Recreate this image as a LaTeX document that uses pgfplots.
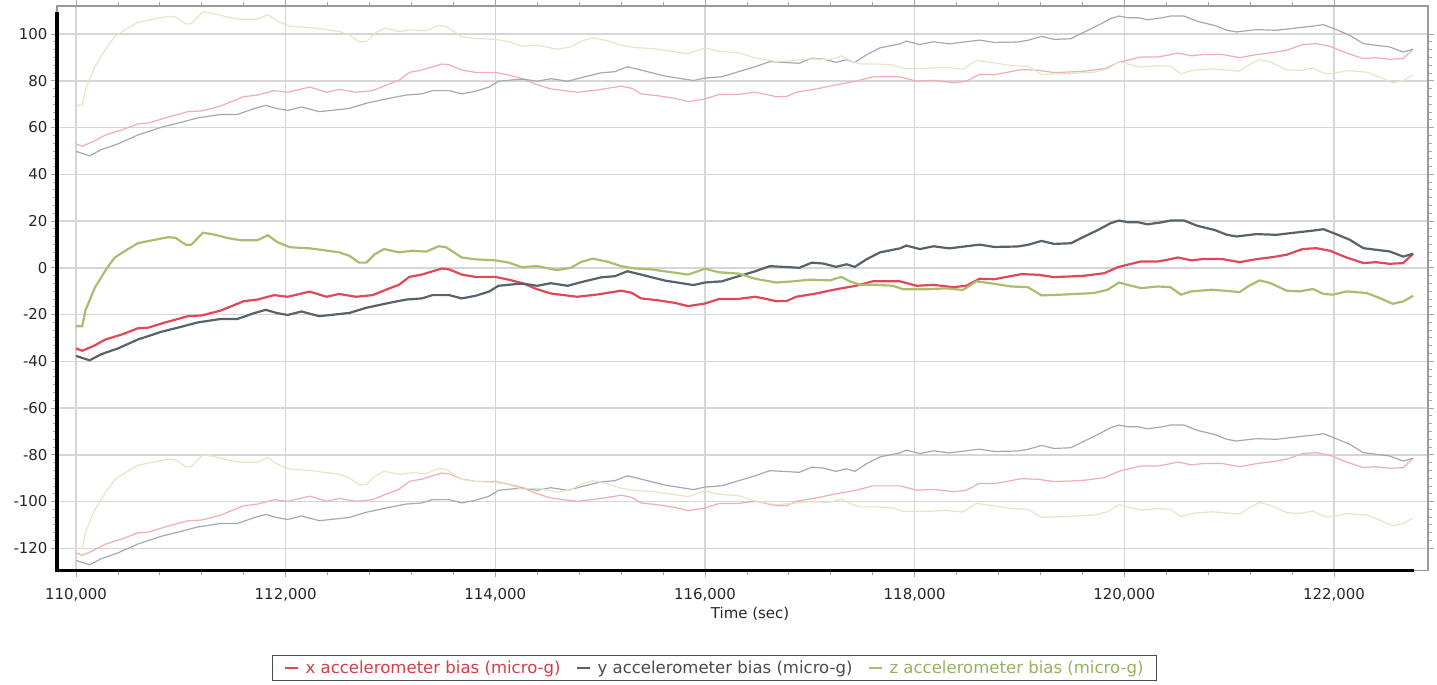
\documentclass[border=0pt]{standalone}
\usepackage{fontspec}
\setmainfont{DejaVu Sans}
\usepackage{pgfplots}
\usepackage{pgfplotstable}
\pgfplotsset{compat=1.18}
\definecolor{xc}{RGB}{224,72,88}
\definecolor{yc}{RGB}{88,98,106}
\definecolor{zc}{RGB}{168,190,110}
\definecolor{xl}{RGB}{242,172,178}
\definecolor{yl}{RGB}{160,170,182}
\definecolor{zl}{RGB}{226,231,198}
\definecolor{xt}{RGB}{214,60,72}
\definecolor{yt}{RGB}{70,76,82}
\definecolor{zt}{RGB}{150,178,92}
\definecolor{gridc}{RGB}{214,214,214}

\pgfplotstableread{
t c u l
110000 -34.5 53.0 -122.0
110060 -35.5 52.0 -123.0
110170 -33.4 54.1 -120.9
110280 -30.7 56.8 -118.2
110440 -28.5 59.0 -116.0
110590 -25.9 61.6 -113.4
110690 -25.6 61.9 -113.1
110850 -23.4 64.1 -110.9
111070 -20.7 66.8 -108.2
111200 -20.4 67.1 -107.9
111380 -18.3 69.2 -105.8
111600 -14.3 73.2 -101.8
111730 -13.6 73.9 -101.1
111890 -11.7 75.8 -99.2
112020 -12.4 75.1 -99.9
112230 -10.2 77.3 -97.7
112390 -12.4 75.1 -99.9
112510 -11.2 76.3 -98.7
112670 -12.4 75.1 -99.9
112830 -11.7 75.8 -99.2
112990 -8.8 78.7 -96.3
113080 -7.3 80.2 -94.8
113180 -3.9 83.6 -91.4
113300 -2.9 84.6 -90.4
113490 -0.3 87.2 -87.8
113560 -0.7 86.8 -88.2
113680 -2.9 84.6 -90.4
113810 -3.9 83.6 -91.4
114000 -3.9 83.6 -91.4
114130 -5.1 82.4 -92.6
114260 -6.6 80.9 -94.1
114400 -9.2 78.3 -96.7
114530 -11.0 76.5 -98.5
114780 -12.4 75.1 -99.9
114980 -11.4 76.1 -98.9
115200 -9.8 77.7 -97.3
115300 -10.7 76.8 -98.2
115390 -13.1 74.4 -100.6
115550 -13.9 73.6 -101.4
115710 -15.0 72.5 -102.5
115840 -16.4 71.1 -103.9
116000 -15.3 72.2 -102.8
116130 -13.4 74.1 -100.9
116320 -13.3 74.2 -100.8
116480 -12.4 75.1 -99.9
116560 -13.1 74.4 -100.6
116680 -14.3 73.2 -101.8
116780 -14.2 73.3 -101.7
116870 -12.4 75.1 -99.9
117060 -11.0 76.5 -98.5
117250 -9.2 78.3 -96.7
117440 -7.7 79.8 -95.2
117600 -5.8 81.7 -93.3
117860 -5.8 81.7 -93.3
118020 -7.7 79.8 -95.2
118180 -7.3 80.2 -94.8
118370 -8.3 79.2 -95.8
118490 -7.7 79.8 -95.2
118620 -4.7 82.8 -92.2
118760 -4.9 82.6 -92.4
119020 -2.7 84.8 -90.2
119180 -3.0 84.5 -90.5
119330 -4.0 83.5 -91.5
119490 -3.7 83.8 -91.2
119620 -3.4 84.1 -90.9
119810 -2.3 85.2 -89.8
119940 0.3 87.8 -87.2
120030 1.3 88.8 -86.2
120160 2.7 90.2 -84.8
120320 2.7 90.2 -84.8
120410 3.4 90.9 -84.1
120510 4.4 91.9 -83.1
120640 3.2 90.7 -84.3
120760 3.8 91.3 -83.7
120940 3.7 91.2 -83.8
121100 2.4 89.9 -85.1
121260 3.7 91.2 -83.8
121420 4.6 92.1 -82.9
121550 5.6 93.1 -81.9
121700 8.0 95.5 -79.5
121830 8.4 95.9 -79.1
121960 7.3 94.8 -80.2
122120 4.4 91.9 -83.1
122280 2.0 89.5 -85.5
122400 2.4 89.9 -85.1
122530 1.7 89.2 -85.8
122660 2.0 89.5 -85.5
122755 6.0 93.5 -81.5
}\xdata

\pgfplotstableread{
t c u l
110000 -37.7 49.8 -125.2
110130 -39.6 47.9 -127.1
110240 -37.0 50.5 -124.5
110400 -34.5 53.0 -122.0
110590 -30.7 56.8 -118.2
110820 -27.3 60.2 -114.8
111000 -25.3 62.2 -112.8
111160 -23.4 64.1 -110.9
111380 -21.9 65.6 -109.4
111540 -21.9 65.6 -109.4
111700 -19.4 68.1 -106.9
111810 -18.0 69.5 -105.5
111920 -19.4 68.1 -106.9
112020 -20.2 67.3 -107.7
112150 -18.7 68.8 -106.2
112320 -20.7 66.8 -108.2
112450 -20.1 67.4 -107.6
112610 -19.3 68.2 -106.8
112770 -17.1 70.4 -104.6
112990 -15.0 72.5 -102.5
113150 -13.6 73.9 -101.1
113300 -13.1 74.4 -100.6
113400 -11.7 75.8 -99.2
113560 -11.7 75.8 -99.2
113680 -13.1 74.4 -100.6
113810 -12.0 75.5 -99.5
113940 -10.2 77.3 -97.7
114030 -7.7 79.8 -95.2
114190 -7.0 80.5 -94.5
114270 -6.8 80.7 -94.3
114400 -7.7 79.8 -95.2
114530 -6.6 80.9 -94.1
114690 -7.7 79.8 -95.2
114850 -5.8 81.7 -93.3
115010 -4.1 83.4 -91.6
115140 -3.6 83.9 -91.1
115260 -1.5 86.0 -89.0
115390 -2.9 84.6 -90.4
115620 -5.5 82.0 -93.0
115780 -6.6 80.9 -94.1
115890 -7.4 80.1 -94.9
116000 -6.3 81.2 -93.8
116160 -5.8 81.7 -93.3
116320 -3.6 83.9 -91.1
116480 -1.5 86.0 -89.0
116560 -0.2 87.3 -87.7
116620 0.7 88.2 -86.8
116900 0.0 87.5 -87.5
117020 2.2 89.7 -85.3
117130 1.8 89.3 -85.7
117250 0.4 87.9 -87.1
117350 1.5 89.0 -86.0
117430 0.4 87.9 -87.1
117540 3.6 91.1 -83.9
117670 6.6 94.1 -80.9
117860 8.3 95.8 -79.2
117920 9.5 97.0 -78.0
118050 8.0 95.5 -79.5
118180 9.2 96.7 -78.3
118330 8.3 95.8 -79.2
118490 9.2 96.7 -78.3
118620 9.9 97.4 -77.6
118760 8.9 96.4 -78.6
118980 9.1 96.6 -78.4
119080 9.8 97.3 -77.7
119210 11.5 99.0 -76.0
119330 10.2 97.7 -77.3
119490 10.5 98.0 -77.0
119620 13.4 100.9 -74.1
119750 16.2 103.7 -71.3
119870 19.1 106.6 -68.4
119950 20.2 107.7 -67.3
120030 19.5 107.0 -68.0
120130 19.5 107.0 -68.0
120220 18.6 106.1 -68.9
120350 19.4 106.9 -68.1
120440 20.2 107.7 -67.3
120570 20.2 107.7 -67.3
120700 17.9 105.4 -69.6
120860 16.2 103.7 -71.3
120980 14.1 101.6 -73.4
121070 13.4 100.9 -74.1
121260 14.4 101.9 -73.1
121450 14.1 101.6 -73.4
121640 15.1 102.6 -72.4
121800 15.9 103.4 -71.6
121900 16.5 104.0 -71.0
122020 14.4 101.9 -73.1
122150 12.0 99.5 -75.5
122280 8.4 95.9 -79.1
122400 7.7 95.2 -79.8
122530 7.0 94.5 -80.5
122660 4.8 92.3 -82.7
122755 6.0 93.5 -81.5
}\ydata

\pgfplotstableread{
t c u l
110000 -25.0 69.5 -120.0
110060 -25.0 69.5 -120.0
110090 -18.2 76.3 -113.2
110180 -8.5 86.0 -103.5
110290 -0.5 94.0 -95.5
110370 4.4 98.9 -90.6
110470 7.3 101.8 -87.7
110590 10.5 105.0 -84.5
110720 11.7 106.2 -83.3
110880 13.1 107.6 -81.9
110950 12.8 107.3 -82.2
111050 9.8 104.3 -85.2
111100 9.9 104.4 -85.1
111210 15.0 109.5 -80.0
111320 14.2 108.7 -80.8
111450 12.7 107.2 -82.3
111570 11.8 106.3 -83.2
111730 11.8 106.3 -83.2
111830 13.9 108.4 -81.1
111920 11.0 105.5 -84.0
112040 8.8 103.3 -86.2
112230 8.3 102.8 -86.7
112350 7.6 102.1 -87.4
112510 6.6 101.1 -88.4
112610 5.1 99.6 -89.9
112700 2.2 96.7 -92.8
112770 2.2 96.7 -92.8
112850 5.8 100.3 -89.2
112940 8.0 102.5 -87.0
113080 6.6 101.1 -88.4
113210 7.3 101.8 -87.7
113340 6.9 101.4 -88.1
113460 9.2 103.7 -85.8
113530 8.8 103.3 -86.2
113680 4.4 98.9 -90.6
113810 3.6 98.1 -91.4
114000 3.2 97.7 -91.8
114130 2.2 96.7 -92.8
114250 0.3 94.8 -94.7
114400 0.7 95.2 -94.3
114590 -1.0 93.5 -96.0
114720 0.0 94.5 -95.0
114820 2.5 97.0 -92.5
114930 3.9 98.4 -91.1
115070 2.6 97.1 -92.4
115200 0.7 95.2 -94.3
115330 -0.3 94.2 -95.3
115490 -0.7 93.8 -95.7
115680 -1.9 92.6 -96.9
115840 -2.9 91.6 -97.9
116000 -0.4 94.1 -95.4
116130 -1.9 92.6 -96.9
116320 -2.5 92.0 -97.5
116480 -4.7 89.8 -99.7
116550 -5.3 89.2 -100.3
116680 -6.3 88.2 -101.3
116840 -5.8 88.7 -100.8
117000 -5.1 89.4 -100.1
117190 -5.4 89.1 -100.4
117300 -3.9 90.6 -98.9
117380 -5.8 88.7 -100.8
117480 -7.3 87.2 -102.3
117640 -7.3 87.2 -102.3
117790 -7.7 86.8 -102.7
117890 -9.2 85.3 -104.2
118110 -9.2 85.3 -104.2
118300 -8.8 85.7 -103.8
118460 -9.5 85.0 -104.5
118590 -5.8 88.7 -100.8
118750 -6.8 87.7 -101.8
118920 -8.0 86.5 -103.0
119080 -8.3 86.2 -103.3
119210 -11.8 82.7 -106.8
119400 -11.5 83.0 -106.5
119710 -10.8 83.7 -105.8
119840 -9.4 85.1 -104.4
119950 -6.3 88.2 -101.3
120030 -7.3 87.2 -102.3
120160 -8.7 85.8 -103.7
120320 -8.0 86.5 -103.0
120440 -8.3 86.2 -103.3
120540 -11.5 83.0 -106.5
120640 -10.1 84.4 -105.1
120830 -9.4 85.1 -104.4
120950 -9.8 84.7 -104.8
121100 -10.4 84.1 -105.4
121190 -7.7 86.8 -102.7
121290 -5.4 89.1 -100.4
121390 -6.5 88.0 -101.5
121550 -9.8 84.7 -104.8
121670 -10.1 84.4 -105.1
121800 -9.1 85.4 -104.1
121900 -11.2 83.3 -106.2
121990 -11.5 83.0 -106.5
122120 -10.1 84.4 -105.1
122310 -10.8 83.7 -105.8
122440 -13.0 81.5 -108.0
122560 -15.4 79.1 -110.4
122660 -14.4 80.1 -109.4
122755 -12.0 82.5 -107.0
}\zdata

\begin{document}
\begin{tikzpicture}
\useasboundingbox (0bp,0bp) rectangle (1437bp,685bp);
\begin{axis}[
  at={(57bp,114.3bp)}, anchor=south west,
  scale only axis, width=1371bp, height=564.7bp,
  xmin=109819, xmax=122897, ymin=-129.6, ymax=112,
  clip=false,
  scaled x ticks=false, scaled y ticks=false,
  xtick={110000,112000,114000,116000,118000,120000,122000},
  xticklabels={{110,000},{112,000},{114,000},{116,000},{118,000},{120,000},{122,000}},
  ytick={-120,-100,-80,-60,-40,-20,0,20,40,60,80,100},
  yticklabels={-120,-100,-80,-60,-40,-20,0,20,40,60,80,100},
  minor x tick num=4, minor y tick num=5,
  tick align=outside,
  major tick length=6bp, minor tick length=4bp,
  every tick/.style={draw=gray!70, line width=0.8bp},
  grid=major,
  major grid style={draw=gridc, line width=1.5bp},
  axis line style={draw=gray!80, line width=1.5bp},
  tick label style={font=\fontsize{15}{18}\selectfont, text=black!85},
  xticklabel style={yshift=-8bp},
  xlabel={Time (sec)},
  every axis x label/.style={at={(axis description cs:0.5055,-0.0765)}, anchor=center, font=\fontsize{15}{18}\selectfont, text=black!85},
  legend columns=3,
  legend style={at={(0.4796,-0.1723)}, anchor=center, draw=gray!60!black, line width=1bp,
    font=\fontsize{16.6}{19}\selectfont, inner xsep=11bp, inner ysep=3bp,
    /tikz/every odd column/.append style={column sep=5bp},
    /tikz/every even column/.append style={column sep=13bp}},
  legend cell align=left,
  legend image code/.code={\draw[#1, line width=2bp] (0bp,0bp) -- (13bp,0bp);},
]
\addplot[xl, line width=1.2bp, forget plot] table[x=t, y=u] {\xdata};
\addplot[xl, line width=1.2bp, forget plot] table[x=t, y=l] {\xdata};
\addplot[yl, line width=1.2bp, forget plot] table[x=t, y=u] {\ydata};
\addplot[yl, line width=1.2bp, forget plot] table[x=t, y=l] {\ydata};
\addplot[zl, line width=1.2bp, forget plot] table[x=t, y=u] {\zdata};
\addplot[zl, line width=1.2bp, forget plot] table[x=t, y=l] {\zdata};
\addplot[xc, line width=2.2bp] table[x=t, y=c] {\xdata};
\addlegendentry{\textcolor{xt}{x accelerometer bias (micro-g)}}
\addplot[yc, line width=2.2bp] table[x=t, y=c] {\ydata};
\addlegendentry{\textcolor{yt}{y accelerometer bias (micro-g)}}
\addplot[zc, line width=2.2bp] table[x=t, y=c] {\zdata};
\addlegendentry{\textcolor{zt}{z accelerometer bias (micro-g)}}
\draw[black, line width=3.5bp] (rel axis cs:0,0.99) -- (rel axis cs:0,0) -- (rel axis cs:0.99,0);
\end{axis}
\end{tikzpicture}
\end{document}
